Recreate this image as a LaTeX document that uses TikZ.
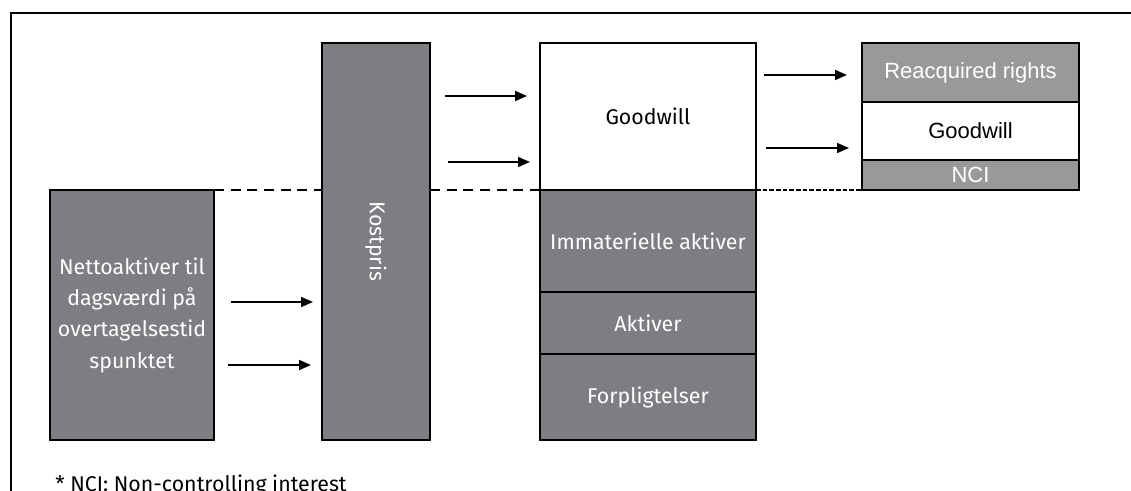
\documentclass[tikz,border=0pt]{standalone}
\usepackage{fontspec}
\setmainfont{Fira Sans}
\newfontfamily\arialfont{Liberation Sans}
\usetikzlibrary{arrows.meta,fit}
\definecolor{dgray}{HTML}{7E7D82}
\definecolor{lgray}{HTML}{999999}
\begin{document}
\begin{tikzpicture}[x=0.75pt,y=-0.75pt,
  box/.style={draw=black,line width=1.6pt,inner sep=0pt,outer sep=0pt},
  dbox/.style={box,fill=dgray},
  wbox/.style={box,fill=white},
  lbox/.style={box,fill=lgray},
  txt/.style={inner sep=0pt,align=center,font=\fontsize{16}{23.5}\selectfont},
  wtxt/.style={txt,text=white},
  btxt/.style={txt,text=black},
  rtxt/.style={inner sep=0pt,font=\arialfont\fontsize{16.5}{18}\selectfont},
  arr/.style={line width=1.3pt,-{Triangle[length=9pt,width=7.5pt]}},
  dashA/.style={line width=1.3pt,dash pattern=on 7.5pt off 5pt},
  dashB/.style={line width=1.3pt,dash pattern=on 3.5pt off 1.5pt}]
\useasboundingbox (0,0) rectangle (1131,491);
% frame
\draw[line width=1.6pt] (11,491) -- (11,13) -- (1131,13);
% left box
\node[dbox,fit={(50,190)(214,440)}] (net) {};
\node[wtxt] (nettxt) at (net.center) {Nettoaktiver til\\dagsværdi på\\overtagelsestid\\spunktet};
% kostpris
\node[dbox,fit={(322,43)(430,440)}] (kost) {};
\node[wtxt,rotate=-90] (kosttxt) at (kost.center) {Kostpris};
% middle stack
\node[wbox,fit={(540,43)(756,190)}] (gw) {};
\node[btxt] (gwtxt) at (gw.center) {Goodwill};
\node[dbox,fit={(540,190)(756,292)}] (imm) {};
\node[wtxt] (immtxt) at (imm.center) {Immaterielle aktiver};
\node[dbox,fit={(540,292)(756,354)}] (akt) {};
\node[wtxt] (akttxt) at (akt.center) {Aktiver};
\node[dbox,fit={(540,354)(756,440)}] (forp) {};
\node[wtxt] (forptxt) at (forp.center) {Forpligtelser};
% right stack
\node[lbox,fit={(862,43)(1079,102)}] (rr) {};
\node[rtxt,text=white] (rrtxt) at (rr.center) {Reacquired rights};
\node[wbox,fit={(862,102)(1079,160)}] (gw2) {};
\node[rtxt,text=black] (gw2txt) at (gw2.center) {Goodwill};
\node[lbox,fit={(862,160)(1079,190)}] (nci) {};
\node[rtxt,text=white] (ncitxt) at (nci.center) {NCI};
% dashed lines
\coordinate (lvl) at (0,190);
\draw[dashA] (net.east |- lvl) -- (kost.west |- lvl);
\draw[dashA] (kost.east |- lvl) -- (gw.west |- lvl);
\draw[dashB] (gw.east |- lvl) -- (nci.west |- lvl);
% arrows
\coordinate (a1s) at (231,302); \coordinate (a1e) at (313,302);
\coordinate (a2s) at (228,365); \coordinate (a2e) at (311,365);
\coordinate (b1s) at (445,96); \coordinate (b1e) at (527,96);
\coordinate (b2s) at (448,162); \coordinate (b2e) at (530,162);
\coordinate (c1s) at (764,75); \coordinate (c1e) at (847,75);
\coordinate (c2s) at (766,148); \coordinate (c2e) at (849,148);
\draw[arr] (a1s) -- (a1e);
\draw[arr] (a2s) -- (a2e);
\draw[arr] (b1s) -- (b1e);
\draw[arr] (b2s) -- (b2e);
\draw[arr] (c1s) -- (c1e);
\draw[arr] (c2s) -- (c2e);
% footnote
\node[anchor=base west,font=\fontsize{16}{18}\selectfont,inner sep=0pt] (fn) at (55,491) {* NCI: Non-controlling interest};
\end{tikzpicture}
\end{document}
